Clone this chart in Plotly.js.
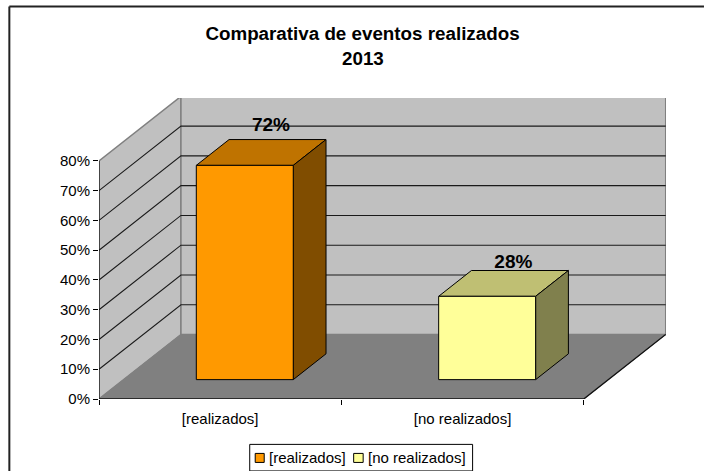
<!DOCTYPE html>
<html>
<head>
<meta charset="utf-8">
<script src="https://cdn.plot.ly/plotly-3.0.1.min.js"></script>
<style>html,body{margin:0;padding:0;background:#fff;overflow:hidden}</style>
</head>
<body>
<div id="chart" style="width:704px;height:471px"></div>
<script>
const categories = ['[realizados]', '[no realizados]'];
const values = [72, 28];
const frontColors = ['#FF9900', '#FFFF99'];
const topColors = ['#BF7300', '#BFBF73'];
const sideColors = ['#804D00', '#80804D'];
const yTicks = [0, 10, 20, 30, 40, 50, 60, 70, 80];
const labelLift = [0.76, 0.66];

const FONT = 'Liberation Sans, Arial, sans-serif';
const W = 704, H = 471;
const plotL = 98.7, plotR = 666, plotT = 98.3, plotB = 398.7;
const pxPerCat = 242.5, pxPerPct = 2.97;
const depthPxX = 82, depthPxY = 64.4;
const DX = depthPxX / pxPerCat, DY = depthPxY / pxPerPct;
const nCat = categories.length;
const xMax = (plotR - plotL) / pxPerCat, yMax = (plotB - plotT) / pxPerPct;
const barW = 0.4, barD0 = 0.3, barD1 = 0.7;

function poly(pts, fill, lineColor, lineW) {
  return {
    type: 'scatter', mode: 'lines', fill: 'toself', fillcolor: fill,
    x: pts.map(p => p[0] + p[2] * DX), y: pts.map(p => p[1] + p[2] * DY),
    line: {color: lineColor, width: lineW}, showlegend: false, hoverinfo: 'skip', cliponaxis: false
  };
}

const traces = [];
const vMax = yTicks[yTicks.length - 1];
traces.push(poly([[0,0,0],[0,vMax,0],[0,vMax,1],[0,0,1],[0,0,0]], '#C0C0C0', '#808080', 1.5));
traces.push(poly([[0,0,1],[0,vMax,1],[nCat,vMax,1],[nCat,0,1],[0,0,1]], '#C0C0C0', '#808080', 1.5));
traces.push(poly([[0,0,0],[0,0,1],[nCat,0,1],[nCat,0,0],[0,0,0]], '#808080', '#808080', 1));

const gx = [], gy = [];
yTicks.slice(1, -1).forEach(v => {
  gx.push(0, DX, nCat + DX, null);
  gy.push(v, v + DY, v + DY, null);
});
traces.push({type:'scatter', mode:'lines', x:gx, y:gy, line:{color:'#1a1a1a', width:1.1}, showlegend:false, hoverinfo:'skip'});

traces.push({type:'scatter', mode:'lines', x:[0,nCat,nCat+DX], y:[0,0,DY], line:{color:'#111', width:1.4}, showlegend:false, hoverinfo:'skip', cliponaxis:false});
traces.push({type:'scatter', mode:'lines', x:[0,0], y:[0,vMax], line:{color:'#111', width:1.2}, showlegend:false, hoverinfo:'skip', cliponaxis:false});

values.forEach((v, i) => {
  const a = i + (1 - barW) / 2, b = a + barW;
  traces.push(poly([[a,v,barD0],[a,v,barD1],[b,v,barD1],[b,v,barD0],[a,v,barD0]], topColors[i], '#000', 1));
  traces.push(poly([[b,0,barD0],[b,v,barD0],[b,v,barD1],[b,0,barD1],[b,0,barD0]], sideColors[i], '#000', 1));
  traces.push(poly([[a,0,barD0],[a,v,barD0],[b,v,barD0],[b,0,barD0],[a,0,barD0]], frontColors[i], '#000', 1));
});

traces.push({
  type:'scatter', mode:'text',
  x: values.map((v,i) => i + 0.5 + 0.62 * DX),
  y: values.map((v,i) => v + labelLift[i] * DY),
  text: values.map(v => v + '%'),
  textposition:'top center',
  textfont:{family:FONT, size:19, color:'#000', weight:700},
  showlegend:false, hoverinfo:'skip', cliponaxis:false
});

const lgL = 249.5, lgR = 472.5, lgT = 444, lgB = 470.5;
const px = v => (v - plotL) / (plotR - plotL), py = v => (plotB - v) / (plotB - plotT);
const legendSwatches = [[255, 264], [353.5, 363]];
const legendTextX = [268, 366.5];
const shapes = [
  {type:'line', xref:'paper', yref:'paper', x0:px(9), x1:px(704), y0:py(7), y1:py(7), line:{color:'#222', width:2}, layer:'below'},
  {type:'line', xref:'paper', yref:'paper', x0:px(9), x1:px(9), y0:py(7), y1:py(471), line:{color:'#222', width:2}, layer:'below'},
  {type:'rect', xref:'paper', yref:'paper', x0:px(lgL), x1:px(lgR), y0:py(lgB), y1:py(lgT), line:{color:'#000', width:1}, fillcolor:'#fff'}
];
const annotations = [];
categories.forEach((c, i) => {
  shapes.push({type:'rect', xref:'paper', yref:'paper', x0:px(legendSwatches[i][0]), x1:px(legendSwatches[i][1]), y0:py(462), y1:py(453), line:{color:'#000', width:1}, fillcolor:frontColors[i]});
  annotations.push({xref:'paper', yref:'paper', x:px(legendTextX[i]), y:py(457.5), xanchor:'left', yanchor:'middle', showarrow:false, text:c, borderpad:0, font:{family:FONT, size:15, color:'#000'}});
});
annotations.push({xref:'paper', yref:'paper', x:px(362.5), y:py(59), xanchor:'center', yanchor:'middle', showarrow:false, text:'<b>2013</b>', font:{family:FONT, size:18.8, color:'#000'}});

const layout = {
  width: W, height: H,
  margin: {l: plotL, r: W - plotR, t: plotT, b: H - plotB, pad: 0},
  paper_bgcolor: '#fff', plot_bgcolor: 'rgba(0,0,0,0)',
  showlegend: false,
  title: {text: '<b>Comparativa de eventos realizados</b>', x: 362.5 / W, xanchor: 'center', y: 1 - 33 / H, yanchor: 'middle', xref:'container', yref:'container',
          font: {family: FONT, size: 18.8, color: '#000'}},
  xaxis: {
    range: [0, xMax], showgrid: false, zeroline: false, showline: false,
    tickmode: 'array', tickvals: categories.map((c, i) => i + 0.5), ticktext: categories, ticks: '', ticklen: 0,
    ticklabelstandoff: 9,
    tickfont: {family: FONT, size: 15, color: '#000'},
    minor: {tickmode: 'array', tickvals: categories.map((c, i) => i).concat([nCat]), ticks: 'outside', ticklen: 5, tickcolor: '#000', tickwidth: 1, showgrid: false},
    fixedrange: true
  },
  yaxis: {
    range: [0, yMax], showgrid: false, zeroline: false, showline: false,
    tickmode: 'array', tickvals: yTicks, ticktext: yTicks.map(v => v + '%'), ticks: 'outside', ticklen: 5, tickcolor: '#000', tickwidth: 1,
    tickfont: {family: FONT, size: 15, color: '#000'},
    fixedrange: true
  },
  shapes, annotations
};
Plotly.newPlot('chart', traces, layout, {displayModeBar: false, staticPlot: true});
</script>
</body>
</html>
